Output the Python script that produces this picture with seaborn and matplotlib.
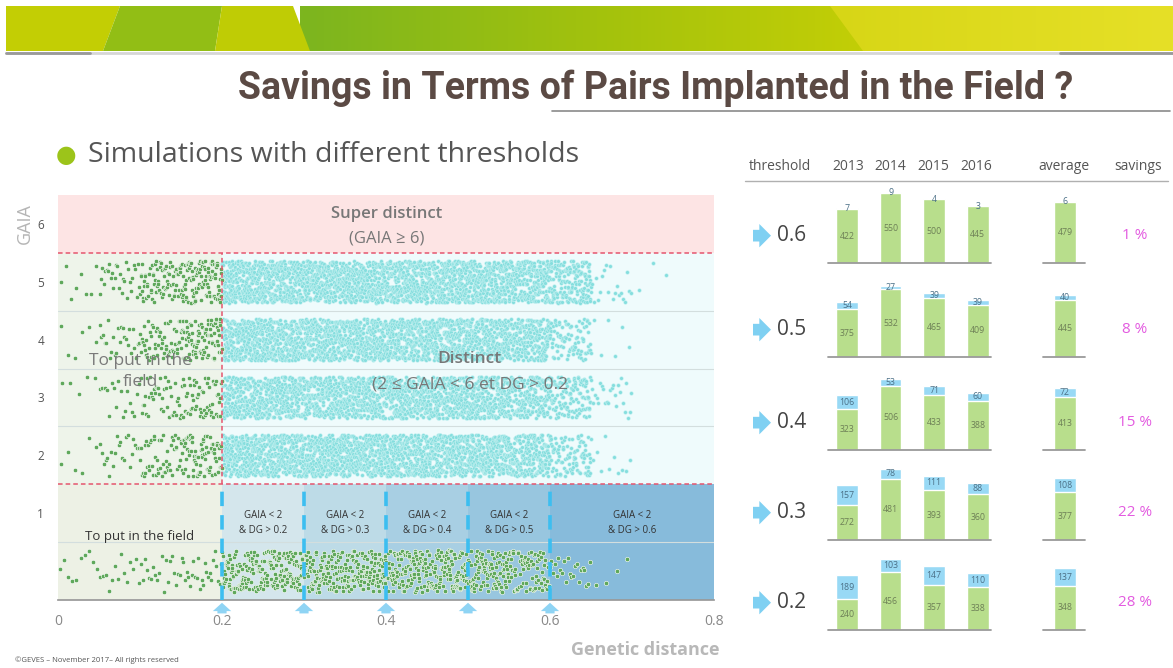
import numpy as np
import pandas as pd
import seaborn as sns
import matplotlib.pyplot as plt
from matplotlib.colors import LinearSegmentedColormap
from matplotlib.patches import Polygon
from matplotlib.lines import Line2D

# ---------------- data: left panel (points per 0.05 genetic-distance bin) ----------------
bin_edges = [0.0, 0.05, 0.1, 0.15, 0.2, 0.25, 0.3, 0.35, 0.4,
             0.45, 0.5, 0.55, 0.6, 0.65, 0.7, 0.75, 0.8]
gaia_rows = [5, 4, 3, 2, 0]
counts_gaia5 = [8, 30, 80, 110, 280, 280, 280, 280, 280, 280, 270, 250, 170, 20, 3, 0]
counts_gaia4 = [6, 25, 60, 95, 270, 275, 275, 275, 275, 275, 265, 220, 90, 6, 0, 0]
counts_gaia3 = [5, 18, 40, 60, 220, 250, 260, 260, 260, 260, 240, 200, 120, 25, 0, 0]
counts_gaia2 = [6, 22, 50, 85, 270, 275, 275, 275, 275, 275, 265, 220, 100, 10, 0, 0]
counts_gaia0 = [10, 14, 20, 25, 110, 115, 115, 115, 115, 115, 105, 80, 22, 4, 0, 0]
dg_thresholds = [0.2, 0.3, 0.4, 0.5, 0.6]
zone_edges = [0.0, 0.2, 0.3, 0.4, 0.5, 0.6, 0.8]
zone_labels = ["GAIA < 2\n& DG > 0.2", "GAIA < 2\n& DG > 0.3", "GAIA < 2\n& DG > 0.4",
               "GAIA < 2\n& DG > 0.5", "GAIA < 2\n& DG > 0.6"]

# ---------------- data: right panel (pairs implanted / saved) ----------------
periods = ["2013", "2014", "2015", "2016", "average"]
thresholds = ["0.6", "0.5", "0.4", "0.3", "0.2"]
field_06 = [422, 550, 500, 445, 479]
saved_06 = [7, 9, 4, 3, 6]
field_05 = [375, 532, 465, 409, 445]
saved_05 = [54, 27, 39, 39, 40]
field_04 = [323, 506, 433, 388, 413]
saved_04 = [106, 53, 71, 60, 72]
field_03 = [272, 481, 393, 360, 377]
saved_03 = [157, 78, 111, 88, 108]
field_02 = [240, 456, 357, 338, 348]
saved_02 = [189, 103, 147, 110, 137]
savings = ["1 %", "8 %", "15 %", "22 %", "28 %"]

sns.set_theme(style="white")
plt.rcParams['font.family'] = ['Open Sans', 'DejaVu Sans']

W, H = 1173, 668
fig = plt.figure(figsize=(W / 100, H / 100), dpi=100)
fig.patch.set_facecolor("white")


def fx(px):
    return px / W


def fy(py):
    return 1 - py / H


# ---------------- banner ----------------
ban = fig.add_axes([fx(6), fy(51), fx(W) - fx(6), fy(6) - fy(51)])
ban.set_xlim(6, W)
ban.set_ylim(0, 45)
ban.axis("off")
cm_green = LinearSegmentedColormap.from_list(
    "g", [(0, "#7cb51f"), (0.34, "#a3c20d"), (0.64, "#c2ce06"), (1, "#cdd209")])
ban.imshow(np.linspace(0, 1, 256)[None, :], cmap=cm_green, aspect="auto",
           extent=(300, W, 0, 45), zorder=0)
ban.add_patch(Polygon([(6, 0), (6, 45), (120, 45), (103, 0)], color="#c3ce04", lw=0))
ban.add_patch(Polygon([(103, 0), (120, 45), (222, 45), (215, 0)], color="#92be15", lw=0))
ban.add_patch(Polygon([(215, 0), (222, 45), (293, 45), (310, 0)], color="#bfcc05", lw=0))
yel = Polygon([(863, 0), (830, 45), (W, 45), (W, 0)], color="none", lw=0)
ban.add_patch(yel)
cm_yel = LinearSegmentedColormap.from_list("y", ["#d7d616", "#e6e027"])
im = ban.imshow(np.linspace(0, 1, 256)[None, :], cmap=cm_yel, aspect="auto",
                extent=(830, W, 0, 45), zorder=1)
im.set_clip_path(yel)
fig.add_artist(Line2D([fx(6), fx(W)], [fy(53), fy(53)], color="#d6d6d6", lw=2))
fig.add_artist(Line2D([fx(6), fx(90)], [fy(53), fy(53)], color="#9a9a9a", lw=2))
fig.add_artist(Line2D([fx(1060), fx(W)], [fy(53), fy(53)], color="#9a9a9a", lw=2))

# ---------------- title ----------------
fig.text(fx(656), fy(88), "Savings in Terms of Pairs Implanted in the Field ?",
         family=["Roboto", "DejaVu Sans"], weight="bold", fontsize=27,
         color="#5b4a44", ha="center", va="center")
fig.add_artist(Line2D([fx(552), fx(1170)], [fy(111), fy(111)], color="#8a8a8a", lw=1.2))
fig.text(fx(66), fy(155), "\u25cf", family=["DejaVu Sans"], fontsize=17,
         color="#9cc41a", ha="center", va="center")
fig.text(fx(88), fy(155), "Simulations with different thresholds", fontsize=20.5,
         color="#555555", ha="left", va="center")

# ---------------- left panel ----------------
ax = fig.add_axes([fx(58), fy(600), fx(714) - fx(58), fy(195) - fy(600)])
ax.axhspan(5.5, 6.5, color="#fde4e4", lw=0, zorder=0)
ax.fill_between([0, 0.2], 1.5, 5.5, color="#eef4ea", lw=0, zorder=0)
ax.fill_between([0.2, 0.8], 1.5, 5.5, color="#effbfc", lw=0, zorder=0)
zone_colors = ["#edf1e5", "#d4e6ec", "#bddbe7", "#a8cfe3", "#98c6df", "#87bbdb"]
for lo, hi, c in zip(zone_edges[:-1], zone_edges[1:], zone_colors):
    ax.fill_between([lo, hi], -0.5, 1.5, color=c, lw=0, zorder=0)
for yy in [4.5, 3.5, 2.5, 0.5]:
    ax.axhline(yy, color="#d3dede", lw=0.8, zorder=1)

rows = []
for g, counts in zip(gaia_rows, [counts_gaia5, counts_gaia4, counts_gaia3,
                                 counts_gaia2, counts_gaia0]):
    for lo, hi, n in zip(bin_edges[:-1], bin_edges[1:], counts):
        for k in range(n):
            x = lo + (k + 0.5) * (hi - lo) / n
            rows.append((x, g, "field" if (g < 2 or x < 0.2) else "distinct"))
pts = pd.DataFrame(rows, columns=["dg", "gaia", "status"])

np.random.seed(7)
sns.stripplot(data=pts[pts.status == "distinct"], x="dg", y="gaia", orient="h",
              native_scale=True, jitter=0.36, size=2.7, color="#86dede",
              edgecolor="#d2f6f6", linewidth=0.3, ax=ax, zorder=2)
sns.stripplot(data=pts[pts.status == "field"], x="dg", y="gaia", orient="h",
              native_scale=True, jitter=0.36, size=3.2, color="#5fa85b",
              edgecolor="white", linewidth=0.4, ax=ax, zorder=3)

dash_red = dict(color="#e5556e", lw=1.1, ls=(0, (3, 2)), zorder=5)
ax.axhline(5.5, **dash_red)
ax.axhline(1.5, **dash_red)
ax.plot([0.2, 0.2], [1.5, 5.5], **dash_red)
for t in dg_thresholds:
    ax.plot([t, t], [-0.5, 1.5], color="#3cbef0", lw=2.6, ls=(0, (4, 2.5)), zorder=5)
    ax.annotate("", xy=(t, -0.5), xytext=(t, -0.78), annotation_clip=False,
                arrowprops=dict(arrowstyle="simple,head_width=1.1,head_length=0.5,tail_width=0.55",
                                color="#8fd4f4", lw=0))

ax.set_xlim(0, 0.8)
ax.set_ylim(-0.5, 6.5)
ax.set_xticks([0, 0.2, 0.4, 0.6, 0.8])
ax.set_xticklabels(["0", "0.2", "0.4", "0.6", "0.8"])
ax.set_yticks([1, 2, 3, 4, 5, 6])
ax.set_xlabel("")
ax.set_ylabel("")
ax.tick_params(axis="x", length=0, pad=10, labelsize=10, labelcolor="#888888")
ax.tick_params(axis="y", length=0, pad=10, labelsize=8.5, labelcolor="#555555")
for s in ["top", "right", "left"]:
    ax.spines[s].set_visible(False)
ax.spines["bottom"].set_color("#999999")

ax.text(0.401, 6.17, "Super distinct", ha="center", va="center", fontsize=12,
        weight="semibold", color="#777777", zorder=6)
ax.text(0.401, 5.74, "(GAIA \u2265 6)", ha="center", va="center", fontsize=12,
        color="#777777", zorder=6, family=["Open Sans", "DejaVu Sans"])
ax.text(0.1, 3.45, "To put in the\nfield", ha="center", va="center", fontsize=12.5,
        color="#7a7a7a", linespacing=1.35, zorder=6)
ax.text(0.502, 3.67, "Distinct", ha="center", va="center", fontsize=12.5,
        weight="semibold", color="#777777", zorder=6)
ax.text(0.502, 3.22, "(2 \u2264 GAIA < 6 et DG > 0.2", ha="center", va="center",
        fontsize=12.5, color="#777777", zorder=6, family=["Open Sans", "DejaVu Sans"])
ax.text(0.1, 0.6, "To put in the field", ha="center", va="center", fontsize=9.5,
        color="#333333", zorder=6)
for lo, hi, lab in zip(zone_edges[1:-1], zone_edges[2:], zone_labels):
    ax.text((lo + hi) / 2, 0.83, lab, ha="center", va="center", fontsize=7,
            color="#333333", linespacing=1.5, zorder=6)

fig.text(fx(25), fy(224), "GAIA", rotation=90, fontsize=13, color="#b5b5b5",
         ha="center", va="center")
fig.text(fx(645), fy(650), "Genetic distance", fontsize=13, weight="bold",
         color="#b8b8b8", ha="center", va="center")
fig.text(fx(15), fy(660), "\u00a9GEVES \u2013 November 2017\u2013 All rights reserved",
         fontsize=5.5, color="#555555", ha="left", va="center")

# ---------------- right panel ----------------
recs = []
for thr, fld, sav in zip(thresholds, [field_06, field_05, field_04, field_03, field_02],
                         [saved_06, saved_05, saved_04, saved_03, saved_02]):
    for p, f, s in zip(periods, fld, sav):
        recs.append((thr, p, f, s, f + s))
bars = pd.DataFrame(recs, columns=["threshold", "period", "field", "saved", "total"])

header = [("threshold", 780), ("2013", 848), ("2014", 890), ("2015", 933),
          ("2016", 976), ("average", 1064), ("savings", 1138)]
for lab, xp in header:
    fig.text(fx(xp), fy(167), lab, fontsize=10, color="#555555", ha="center", va="center")
fig.add_artist(Line2D([fx(745), fx(1168)], [fy(181), fy(181)], color="#b0b0b0", lw=1))

bar_order = periods[:4] + [" ", "average"]
row_base = [263, 357, 450, 540, 630]
for i, thr in enumerate(thresholds):
    base = row_base[i]
    rax = fig.add_axes([fx(745), fy(base), fx(1170) - fx(745), fy(base - 89) - fy(base)])
    sub = bars[bars.threshold == thr]
    sns.barplot(data=sub, x="period", y="total", order=bar_order, color="#98d9f5",
                saturation=1, width=0.5, errorbar=None, ax=rax)
    sns.barplot(data=sub, x="period", y="field", order=bar_order, color="#b8de8c",
                saturation=1, width=0.5, errorbar=None, ax=rax)
    for _, r in sub.iterrows():
        pos = bar_order.index(r.period)
        rax.text(pos, r.field / 2, str(r.field), ha="center", va="center",
                 fontsize=6.3, color="#6d7f56")
        rax.text(pos, r.field + r.saved / 2, str(r.saved), ha="center", va="center",
                 fontsize=6.3, color="#4a6f86")
    rax.plot([-0.44, 3.3], [0, 0], color="#9a9a9a", lw=1.3, clip_on=False)
    rax.plot([4.5, 5.46], [0, 0], color="#9a9a9a", lw=1.3, clip_on=False)
    rax.set_xlim(-2.34, 7.41)
    rax.set_ylim(0, 700)
    rax.axis("off")
    ylab = 215
    rax.annotate("", xy=(-1.68, ylab), xytext=(-2.22, ylab), annotation_clip=False,
                 arrowprops=dict(arrowstyle="simple,head_width=1.4,head_length=0.7,tail_width=0.7",
                                 color="#7fd0f2", lw=0, mutation_scale=12))
    rax.text(-1.6, ylab, thr, fontsize=15, color="#444444", ha="left", va="center")
    rax.text(6.6, ylab, savings[i], fontsize=11, color="#e35be0", ha="center", va="center")

plt.savefig("out.png", dpi=100)
